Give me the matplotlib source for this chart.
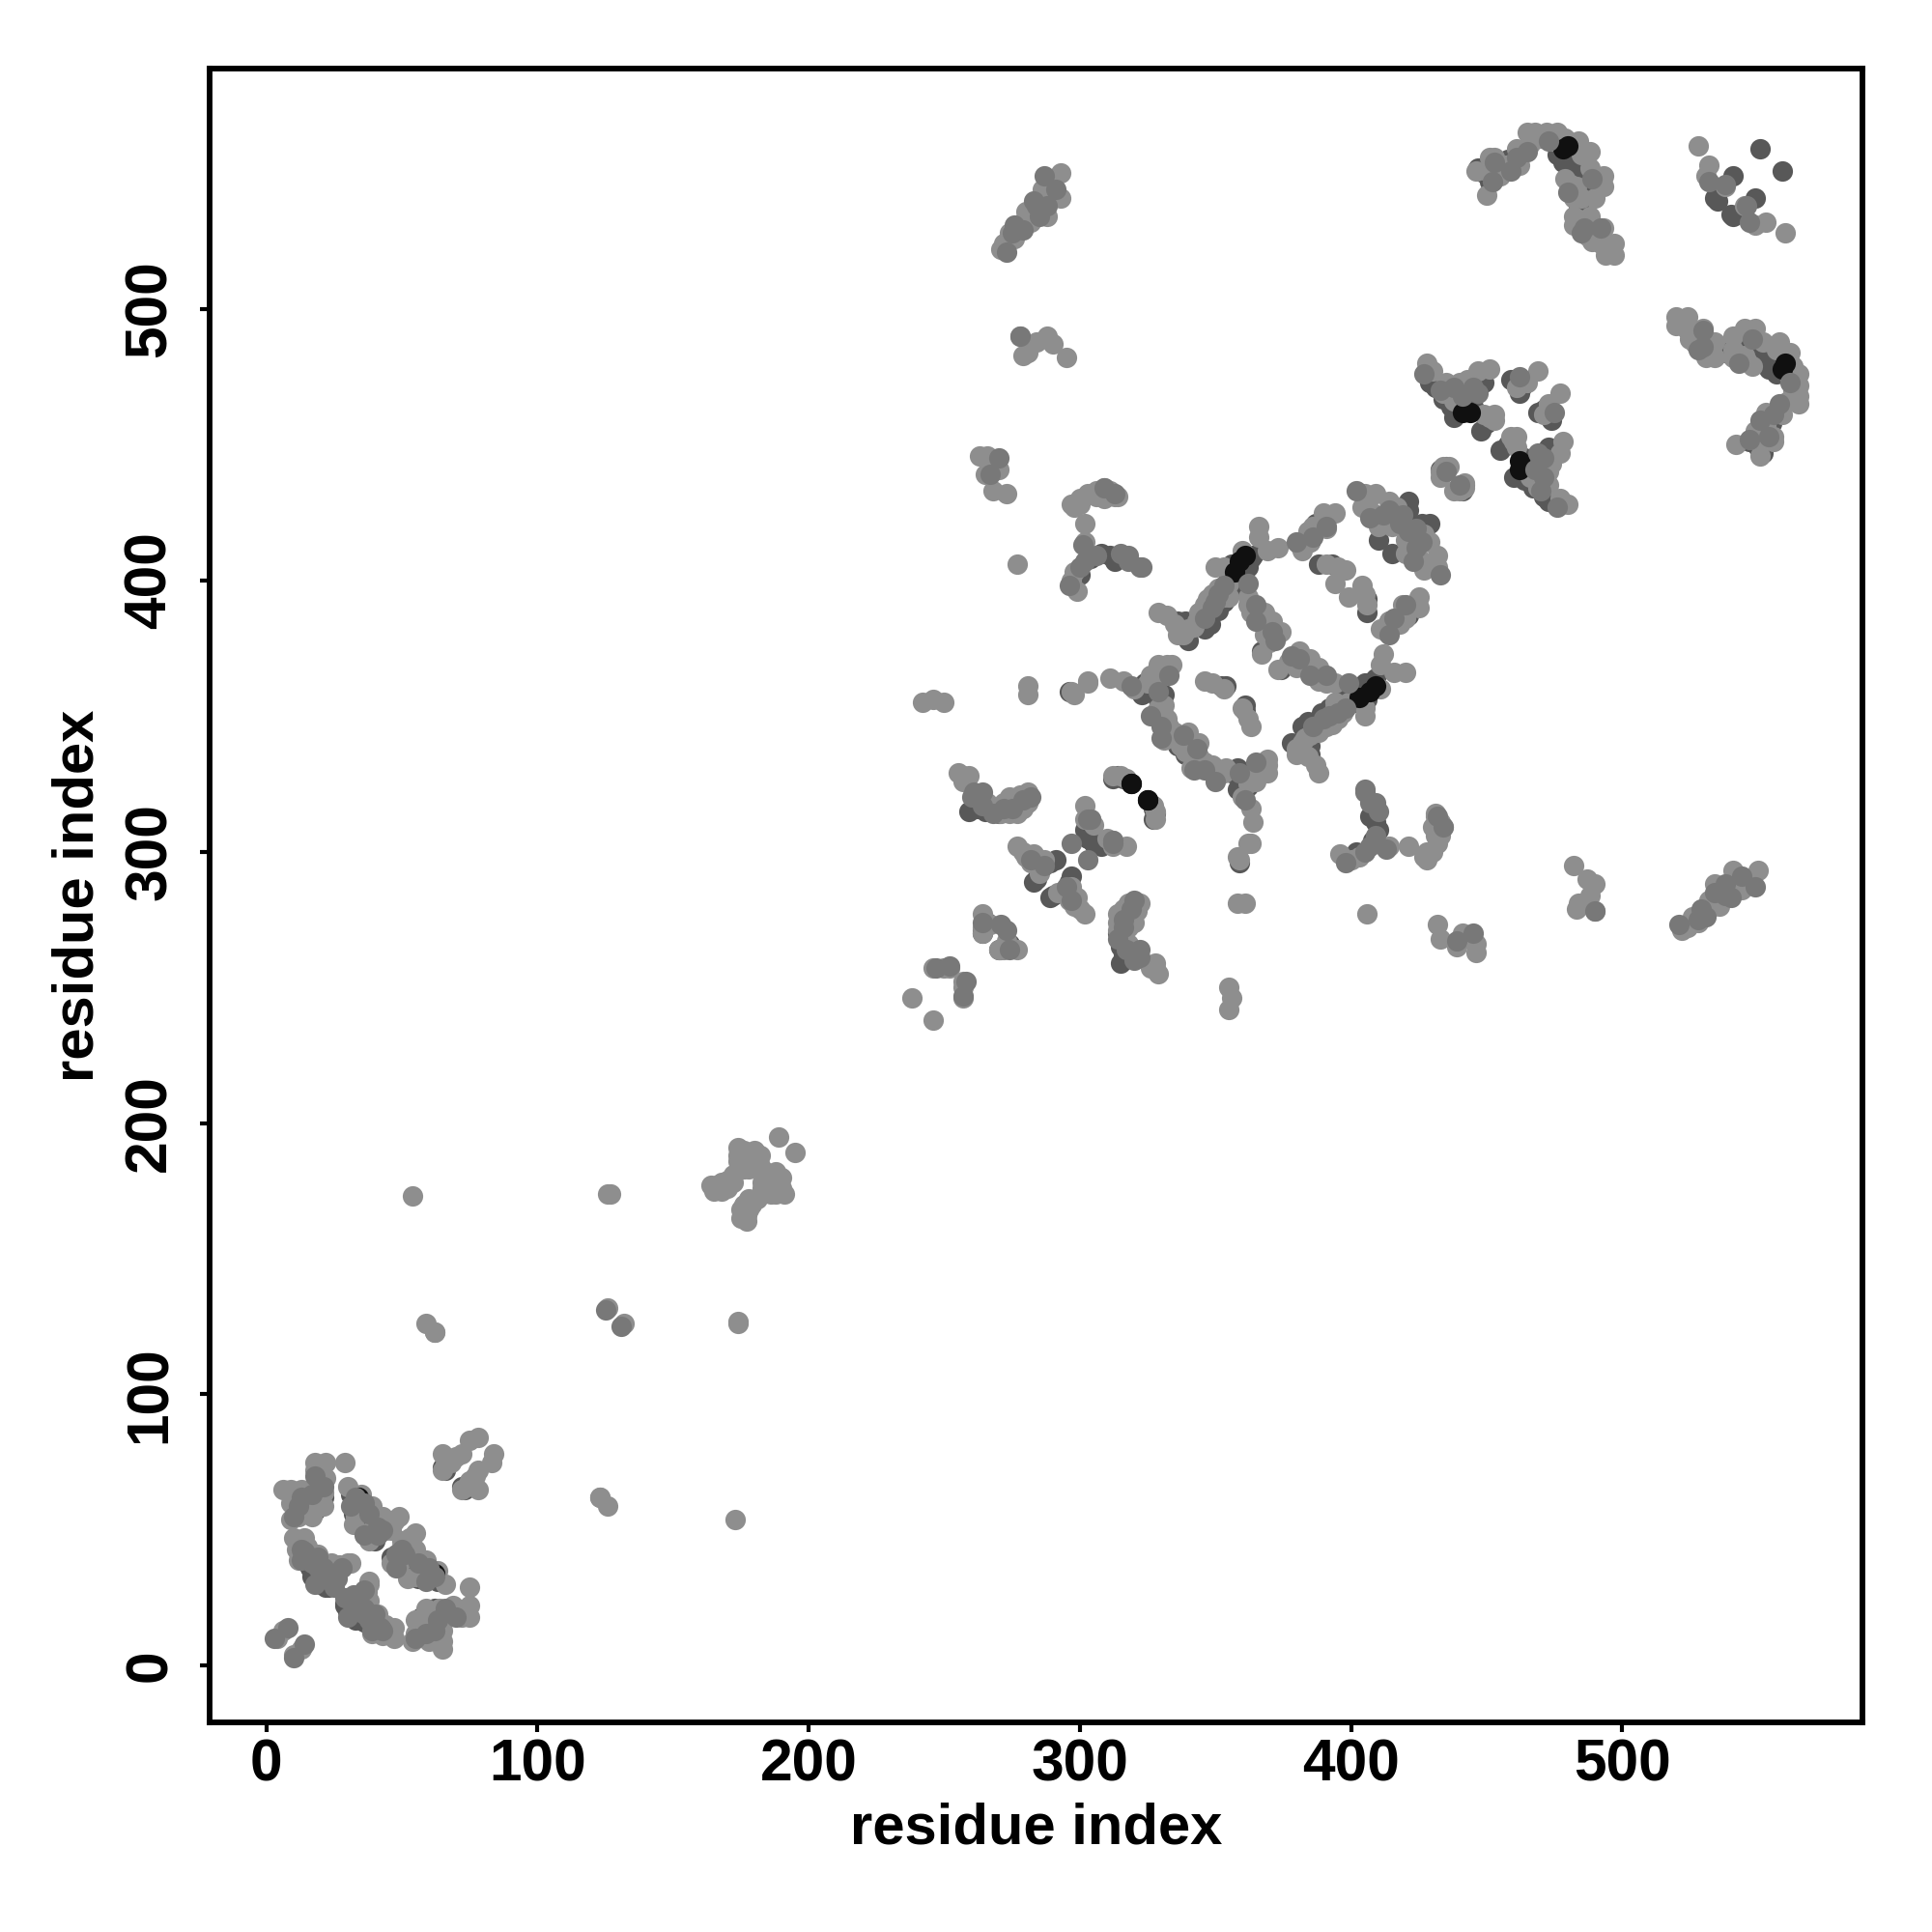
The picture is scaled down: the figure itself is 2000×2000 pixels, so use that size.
import matplotlib
matplotlib.use("Agg")
import matplotlib.pyplot as plt

# contacts (i < j), map is symmetric so each one is drawn both ways
dark = [
    (14, 60), (16, 58), (20, 60), (21, 62), (18, 57), (31, 63), (32, 56), (32, 58), (34, 55),
    (38, 59), (39, 47), (36, 52), (33, 60), (40, 46), (15, 38), (16, 36), (20, 30), (22, 29),
    (24, 31), (17, 33), (23, 29), (65, 73), (72, 66),
    (264, 271), (264, 270), (266, 274), (259, 315), (262, 316), (265, 315), (267, 315),
    (283, 289), (291, 297), (284, 290), (289, 296), (302, 308), (304, 309), (305, 303),
    (312, 327), (314, 328), (316, 327), (324, 362), (323, 358), (327, 359), (326, 360),
    (329, 356), (331, 358), (354, 361), (352, 361), (346, 382), (348, 384), (351, 389),
    (353, 392), (358, 397), (364, 409), (367, 374), (369, 378), (385, 414), (387, 421),
    (388, 406), (393, 406), (405, 427), (406, 430), (421, 429), (421, 426), (416, 423),
    (410, 415), (429, 473), (431, 471), (434, 467), (437, 464), (447, 472), (449, 473),
    (450, 458), (448, 455), (459, 474), (462, 469), (463, 471), (447, 552), (449, 550),
    (451, 547), (455, 553), (458, 555), (476, 557), (480, 556), (482, 552), (483, 549),
    (486, 545), (484, 538), (535, 540), (541, 549), (551, 559), (534, 541),
    (311, 409), (313, 407), (308, 410), (304, 408), (300, 402), (336, 339), (339, 385),
    (340, 378), (336, 385), (278, 316), (270, 314), (433, 441), (435, 442), (296, 359),
    (477, 558), (480, 558), (482, 554), (484, 552), (478, 554), (483, 558), (486, 551),
    (355, 402), (356, 406), (362, 405), (363, 408), (445, 464), (439, 464), (438, 460),
    (358, 405), (360, 408), (361, 406), (359, 404),
]
mid = [
    (12, 59), (10, 55), (13, 62), (17, 63), (21, 66), (18, 70), (33, 62), (36, 60), (38, 56),
    (41, 51), (43, 50), (13, 43), (14, 41), (19, 40), (21, 36), (26, 32), (13, 39),
    (18, 30), (29, 25), (33, 21), (36, 19), (40, 16), (42, 14), (3, 10), (8, 14),
    (125, 131), (264, 274), (273, 271), (247, 257), (258, 252),
    (260, 320), (264, 322), (272, 316), (279, 319), (282, 297), (287, 295), (297, 303),
    (303, 312), (312, 304), (319, 361), (326, 350), (330, 342), (333, 365), (338, 343),
    (349, 390), (351, 395), (353, 398), (362, 399), (365, 385), (371, 381), (380, 414),
    (386, 416), (391, 420), (402, 433), (407, 423), (414, 426), (418, 421), (427, 476),
    (433, 470), (441, 468), (447, 469), (462, 475), (453, 554), (461, 556), (465, 558),
    (473, 562), (489, 548), (485, 528), (492, 530), (538, 546), (532, 547), (278, 490),
    (275, 528), (284, 538), (287, 549), (301, 413), (306, 409), (318, 407), (323, 405),
    (405, 322), (432, 313), (434, 309), (435, 440), (270, 445), (267, 439),
    (273, 521), (279, 529), (285, 534), (288, 538), (291, 544), (283, 540), (276, 531),
    (296, 398), (300, 405), (302, 407), (315, 410), (318, 409),
    (261, 322), (264, 317), (268, 314), (275, 316), (282, 320),
    (31, 59), (36, 48), (41, 48), (17, 38), (22, 33), (28, 36), (452, 547), (459, 551),
    (480, 543), (486, 530), (438, 471), (445, 471), (350, 392), (346, 386), (365, 391),
    (372, 378), (412, 424), (419, 424), (329, 359), (330, 346),
]
light = [
    (6, 65), (9, 65), (9, 54), (9, 60), (13, 65), (12, 55), (17, 55), (16, 58), (18, 75),
    (22, 75), (18, 72), (22, 69), (18, 66), (21, 64), (21, 59), (15, 62), (11, 59), (29, 75),
    (30, 66), (35, 63), (32, 52), (35, 57), (39, 59), (40, 53), (44, 50), (43, 55), (49, 55),
    (46, 53), (37, 49), (10, 47), (14, 47), (12, 39), (17, 41), (19, 41), (24, 38), (31, 38),
    (26, 35), (24, 31), (30, 38), (4, 10), (6, 13), (65, 78), (65, 72), (66, 74), (68, 75),
    (70, 77), (72, 78), (75, 83), (78, 84),
    (54, 173), (59, 126), (62, 123), (62, 123), (126, 174), (127, 174), (126, 132),
    (164, 177), (166, 176), (168, 175), (174, 191), (175, 184), (175, 187), (177, 189),
    (179, 187), (189, 195), (166, 177), (165, 175), (172, 181), (170, 179), (174, 188),
    (182, 184), (178, 186), (168, 178), (170, 176), (172, 178), (176, 183), (178, 183),
    (176, 190), (180, 190), (182, 188), (174, 186),
    (238, 246), (250, 257), (246, 257), (252, 257),
    (264, 277), (267, 273), (264, 272), (270, 264),
    (255, 329), (257, 328), (259, 328), (262, 321), (264, 320), (271, 314), (274, 320),
    (278, 321), (281, 322), (281, 318), (277, 314), (277, 302), (279, 300), (280, 298),
    (283, 299), (284, 295), (287, 297), (285, 292), (282, 296), (302, 317), (302, 312),
    (305, 310), (304, 312), (317, 327), (328, 312), (328, 315),
    (242, 355), (246, 356), (250, 355), (281, 358), (281, 361), (298, 358), (303, 363),
    (297, 359), (303, 362), (311, 364), (316, 363), (320, 360), (325, 362), (329, 369),
    (334, 369), (329, 353), (333, 346), (337, 339), (331, 341), (340, 344), (332, 349),
    (346, 363), (349, 362), (353, 360), (332, 369), (329, 388), (332, 387), (335, 384),
    (338, 380), (340, 382), (336, 380), (342, 383), (346, 391), (347, 393), (351, 397),
    (353, 394), (355, 399), (350, 405), (353, 405), (360, 411), (369, 411), (366, 416),
    (366, 420), (373, 412), (362, 394), (363, 388), (368, 388), (374, 381), (367, 373),
    (370, 377), (390, 425), (394, 425), (386, 420), (391, 419), (382, 414), (382, 411),
    (385, 414), (381, 413), (384, 418), (391, 424), (391, 406), (395, 405), (398, 404),
    (394, 399), (405, 432), (409, 432), (404, 427), (406, 429), (414, 429), (410, 420),
    (415, 420), (408, 425), (414, 423), (433, 438), (434, 442), (436, 442), (433, 440),
    (277, 406), (263, 446), (266, 446), (270, 441), (265, 439), (268, 433), (273, 432),
    (297, 428), (300, 430), (303, 432), (306, 433), (309, 434), (314, 431), (297, 400),
    (299, 396), (302, 421), (302, 414), (298, 403), (298, 427), (300, 428), (306, 431),
    (311, 433), (313, 431), (309, 430),
    (278, 490), (279, 483), (281, 484), (284, 488), (288, 490), (290, 487), (295, 482),
    (271, 522), (272, 524), (274, 528), (277, 530), (279, 532), (281, 533), (284, 536),
    (288, 534), (286, 544), (290, 546), (293, 550), (293, 541), (288, 548), (276, 526),
    (282, 532), (290, 541), (288, 544), (280, 536),
    (428, 480), (430, 477), (435, 473), (447, 477), (451, 478), (443, 474), (449, 461),
    (453, 461), (453, 459), (451, 460), (469, 477), (465, 473), (461, 471),
    (446, 551), (450, 542), (451, 556), (453, 556), (457, 553), (461, 559), (465, 559),
    (465, 565), (468, 565), (472, 565), (476, 565), (484, 562), (488, 558), (485, 557),
    (488, 552), (493, 549), (493, 545), (490, 541), (482, 541), (485, 541), (481, 546),
    (482, 534), (482, 531), (488, 534), (493, 530), (489, 525), (497, 524), (497, 520),
    (494, 520), (491, 527), (528, 560), (532, 553), (531, 549), (538, 545),
    (257, 326), (266, 318), (272, 318), (279, 316), (274, 314),
    (33, 55), (38, 46), (46, 50), (47, 53), (11, 43), (15, 44), (20, 37), (27, 37), (23, 35),
    (450, 551), (455, 549), (462, 553), (479, 548), (483, 545), (484, 533), (490, 530),
    (492, 524), (495, 522), (487, 527), (434, 469), (440, 473), (438, 466),
    (349, 395), (344, 388), (343, 385), (355, 394), (362, 391), (371, 385), (368, 380),
    (407, 431), (417, 427), (326, 365), (330, 365), (331, 354), (335, 344), (328, 351),
    (466, 561), (470, 563), (474, 562), (478, 562), (479, 563),
]
black = [
    (319, 325), (325, 319), (357, 403), (359, 407), (361, 409),
    (441, 462), (444, 462), (478, 559), (480, 560), (34, 62),
]
tick_values = [0, 100, 200, 300, 400, 500]


def scatter_both(ax, pairs, color):
    i = [p[0] for p in pairs]
    j = [p[1] for p in pairs]
    ax.scatter(i + j, j + i, s=58, c=color, linewidths=0)


plt.rcParams["font.family"] = ["Liberation Sans", "DejaVu Sans"]
plt.rcParams["font.weight"] = "bold"

fig = plt.figure(figsize=(10, 10))
ax = fig.add_axes([0.1085, 0.1085, 0.8555, 0.856])
scatter_both(ax, dark, "#585858")
scatter_both(ax, light, "#8e8e8e")
scatter_both(ax, black, "#101010")
scatter_both(ax, mid, "#787878")
ax.set_xlim(-20.9, 588.6)
ax.set_ylim(-20.9, 588.6)
ax.set_xticks(tick_values)
ax.set_yticks(tick_values)
ax.tick_params(length=3.6, width=1.5, labelsize=21.8)
ax.tick_params(axis="x", pad=2.5)
ax.tick_params(axis="y", pad=8)
for lab in ax.get_yticklabels():
    lab.set_rotation(90)
    lab.set_va("center")
for s in ax.spines.values():
    s.set_linewidth(2.1)
ax.set_xlabel("residue index", fontsize=21.5, fontweight="bold", labelpad=3)
ax.set_ylabel("residue index", fontsize=21.5, fontweight="bold", labelpad=7)
fig.savefig("out.png", dpi=200)
